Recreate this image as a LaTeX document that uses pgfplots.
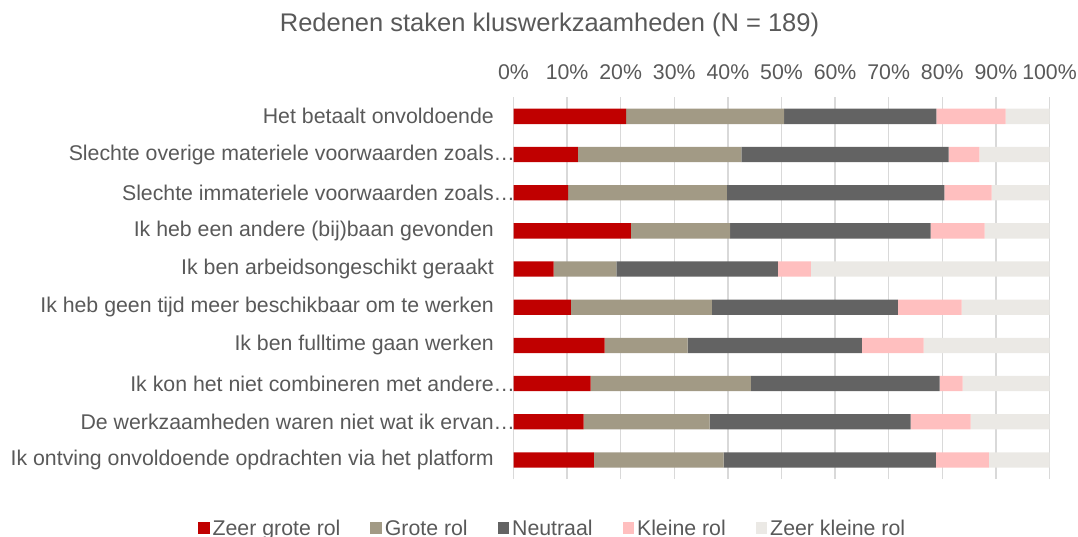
\documentclass[border=0pt]{standalone}
\usepackage{fontspec}
\setmainfont{Liberation Sans}
\usepackage{pgfplots}
\usepackage{pgfplotstable}
\pgfplotsset{compat=1.18}
\definecolor{c1}{HTML}{C00000}
\definecolor{c2}{HTML}{A29A85}
\definecolor{c3}{HTML}{636363}
\definecolor{c4}{HTML}{FFBFBF}
\definecolor{c5}{HTML}{EBE9E5}
\definecolor{txt}{HTML}{595959}
\definecolor{gridc}{HTML}{D9D9D9}
\pgfplotstableread{
y zg g n k zk
0 15.0 24.2 39.6 9.9 11.3
1 13.1 23.5 37.5 11.2 14.7
2 14.4 29.9 35.2 4.3 16.2
3 17.0 15.5 32.5 11.5 23.5
4 10.7 26.3 34.7 11.9 16.4
5 7.5 11.7 30.1 6.2 44.5
6 21.9 18.5 37.4 10.1 12.1
7 10.2 29.6 40.6 8.8 10.8
8 12.0 30.5 38.7 5.7 13.1
9 21.0 29.5 28.4 12.9 8.2
}\data
\begin{document}
\begin{tikzpicture}
\useasboundingbox (0pt,0pt) rectangle (1078pt,536pt);
\begin{axis}[
  at={(513.5pt,57pt)}, anchor=south west,
  scale only axis, width=536pt, height=381.7pt,
  xbar stacked, bar width=15.3pt,
  xmin=0, xmax=100, ymin=-0.5, ymax=9.5,
  axis line style={draw=none},
  major tick length=0pt,
  xtick={0,10,...,100},
  xticklabel pos=top,
  xticklabel={\pgfmathprintnumber{\tick}\%},
  /pgf/number format/assume math mode=true,
  xticklabel style={font=\fontsize{21.3}{25}\selectfont, text=txt, inner sep=0pt, yshift=17.5pt},
  xmajorgrids, grid style={draw=gridc, line width=1.4pt},
  ytick={0,...,9},
  yticklabels={
    Ik ontving onvoldoende opdrachten via het platform,
    De werkzaamheden waren niet wat ik ervan\rlap{…},
    Ik kon het niet combineren met andere\rlap{…},
    Ik ben fulltime gaan werken,
    Ik heb geen tijd meer beschikbaar om te werken,
    Ik ben arbeidsongeschikt geraakt,
    Ik heb een andere (bij)baan gevonden,
    Slechte immateriele voorwaarden zoals\rlap{…},
    Slechte overige materiele voorwaarden zoals\rlap{…},
    Het betaalt onvoldoende},
  yticklabel style={font=\fontsize{21.3}{25}\selectfont, text=txt, inner sep=0pt, xshift=-19.5pt},
  title={Redenen staken kluswerkzaamheden (N = 189)},
  title style={at={(axis description cs:0.0672,1.1572)}, anchor=base, font=\fontsize{25.5}{30}\selectfont, text=txt, inner sep=0pt},
  legend columns=5,
  legend style={at={(axis description cs:0.0741,-0.1285)}, anchor=center, draw=none, fill=none,
    font=\fontsize{21.3}{25}\selectfont, text=txt,
    /tikz/every even column/.append style={column sep=27pt},
    nodes={inner xsep=3pt, inner ysep=1.5pt}},
  legend image code/.code={\fill[#1] (0pt,-5.7pt) rectangle (11.4pt,5.7pt);},
]
\addplot[fill=c1, draw=none] table[x=zg, y=y] {\data};
\addplot[fill=c2, draw=none] table[x=g, y=y] {\data};
\addplot[fill=c3, draw=none] table[x=n, y=y] {\data};
\addplot[fill=c4, draw=none] table[x=k, y=y] {\data};
\addplot[fill=c5, draw=none] table[x=zk, y=y] {\data};
\legend{Zeer grote rol, Grote rol, Neutraal, Kleine rol, Zeer kleine rol}
\end{axis}
\end{tikzpicture}
\end{document}
